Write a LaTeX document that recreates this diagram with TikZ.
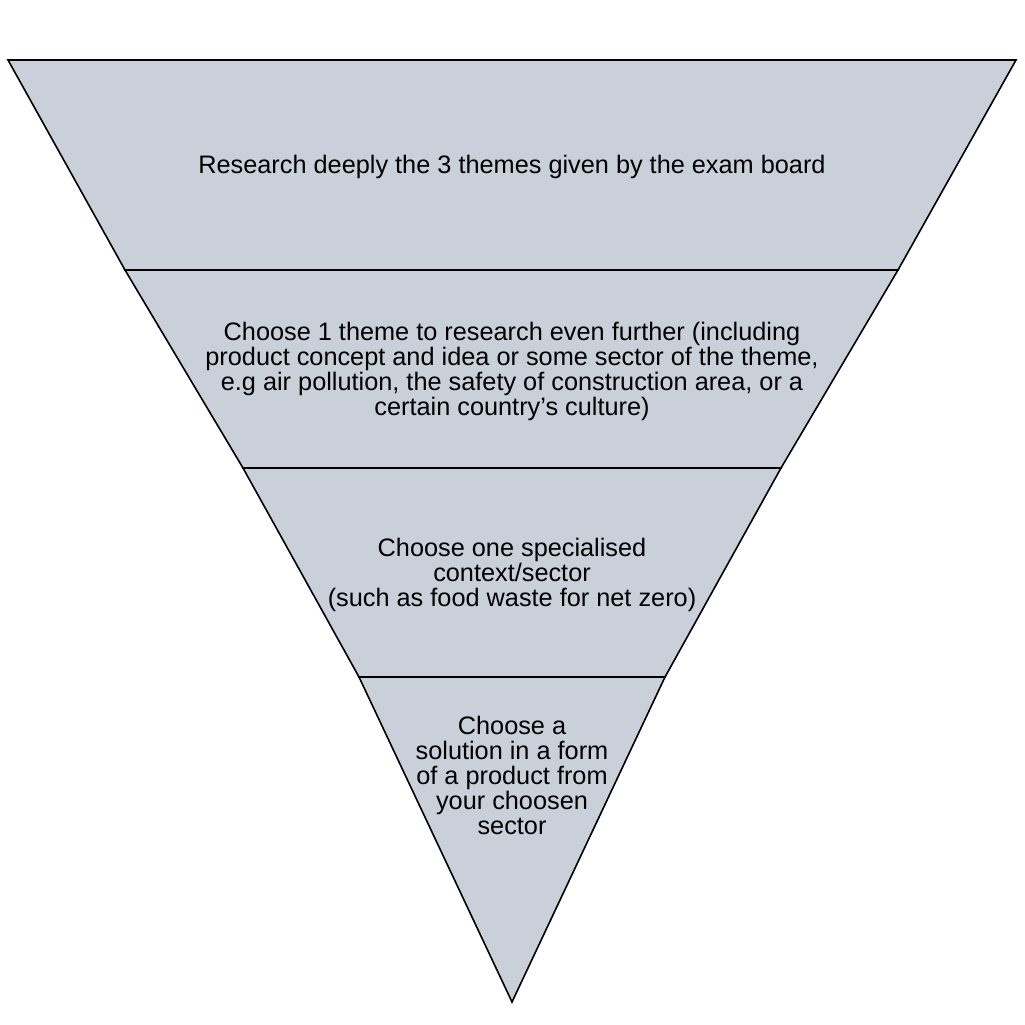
\documentclass[tikz,border=0pt]{standalone}
\usepackage{fontspec}
\setmainfont{Liberation Sans}
\usepackage{tikz}
\definecolor{funnelfill}{HTML}{C9D0DA}
\tikzset{
	layer/.style={draw=black, line width=1.6pt, fill=funnelfill, line join=miter},
	layertext/.style={align=center, font=\fontsize{25.3}{25}\selectfont, inner sep=0pt}
}

\begin{document}
\begin{tikzpicture}[x=1pt, y=-1pt]
		%%%%% START %%%%%
		\useasboundingbox (0, 0) rectangle (1025, 1025);
		
		\draw[layer] (8, 60) -- (1016, 60) -- (898, 270) -- (125, 270) -- cycle;
		\draw[layer] (125, 270) -- (898, 270) -- (781, 468) -- (243, 468) -- cycle;
		\draw[layer] (243, 468) -- (781, 468) -- (665, 677) -- (359, 677) -- cycle;
		\draw[layer] (359, 677) -- (665, 677) -- (512, 1002) -- cycle;
		
		\node[layertext] (themes) at (512, 167) {Research deeply the 3 themes given by the exam board};
		\node[layertext] (onetheme) at (512, 371) {Choose 1 theme to research even further (including\\product concept and idea or some sector of the theme,\\e.g air pollution, the safety of construction area, or a\\certain country’s culture)};
		\node[layertext] (context) at (512, 575) {Choose one specialised\\context/sector\\(such as food waste for net zero)};
		\node[layertext] (solution) at (512, 775) {Choose a\\solution in a form\\of a product from\\your choosen\\sector};
		
		%%%%% END %%%%%
\end{tikzpicture}
\end{document}
